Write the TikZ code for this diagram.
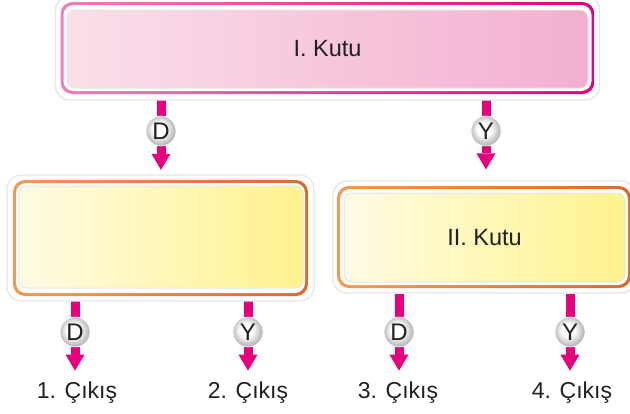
\documentclass[tikz,border=0pt]{standalone}
\usepackage{fontspec}
\setmainfont{Liberation Sans}
\usetikzlibrary{arrows.meta,calc}
\definecolor{mag}{HTML}{E6007E}
\definecolor{pinkL}{HTML}{FADFEA}
\definecolor{pinkR}{HTML}{F3AFCF}
\definecolor{pinkBL}{HTML}{F27DB8}
\definecolor{pinkBR}{HTML}{E4007C}
\definecolor{yelL}{HTML}{FFFBE4}
\definecolor{yelR}{HTML}{FFF38C}
\definecolor{orBL}{HTML}{F39A52}
\definecolor{orBR}{HTML}{DA6A2C}
\definecolor{rimgray}{HTML}{E6E6E6}
\definecolor{ballrim}{HTML}{B8B8B8}
\definecolor{txt}{HTML}{231F20}
\pgfdeclareradialshading{dyball}{\pgfpoint{-4bp}{4bp}}{color(0bp)=(white); color(11bp)=(white); color(25bp)=(ballrim); color(50bp)=(ballrim)}
\pgfdeclarelayer{conn}
\pgfsetlayers{conn,main}
\begin{document}
\begin{tikzpicture}[x=1pt,y=-1pt,
  rim/.style={rectangle, rounded corners=14pt, draw=rimgray, line width=1.3pt, fill=white, inner sep=0pt},
  brd/.style={rectangle, rounded corners=12pt, inner sep=0pt},
  gapbox/.style={rectangle, rounded corners=10pt, fill=white, inner sep=0pt},
  infill/.style={rectangle, rounded corners=8pt, draw=rimgray, line width=1pt, inner sep=0pt, text=txt, font=\fontsize{23.5}{28}\selectfont},
  dyball/.style={circle, minimum size=30pt, inner sep=0pt, shading=dyball, draw=white, line width=0.6pt, text=txt, font=\fontsize{24}{24}\selectfont},
  outl/.style={inner sep=0pt, text=txt, font=\fontsize{23}{23}\selectfont, anchor=base},
  stem/.style={draw=mag, line width=9pt},
  arr/.style={draw=mag, line width=9pt, -{Triangle[width=19pt,length=16pt,line width=0pt]}}
]
\useasboundingbox (0,0) rectangle (630,413);

% top box
\node[rim, minimum width=544pt, minimum height=104pt] (k1rim) at (327.5,48) {};
\node[brd, left color=pinkBL, right color=pinkBR, minimum width=534pt, minimum height=92pt] (k1b) at (327.5,48) {};
\node[gapbox, minimum width=528pt, minimum height=86pt] (k1g) at (327.5,48) {};
\node[infill, left color=pinkL, right color=pinkR, minimum width=521pt, minimum height=78pt] (k1) at (327.5,49) {I. Kutu};

% left box
\node[rim, minimum width=307pt, minimum height=126pt] (k2rim) at (160.5,238) {};
\node[brd, left color=orBL, right color=orBR, minimum width=295pt, minimum height=116pt] (k2b) at (160.5,238) {};
\node[gapbox, minimum width=289pt, minimum height=110pt] (k2g) at (160.5,238) {};
\node[infill, left color=yelL, right color=yelR, minimum width=284pt, minimum height=102pt] (k2) at (161,237) {};

% right box
\node[rim, minimum width=302pt, minimum height=112pt] (k3rim) at (484,237) {};
\node[brd, left color=orBL, right color=orBR, minimum width=294pt, minimum height=102pt] (k3b) at (484,237) {};
\node[gapbox, minimum width=288pt, minimum height=96pt] (k3g) at (484,237) {};
\node[infill, left color=yelL, right color=yelR, minimum width=281pt, minimum height=89pt] (k3) at (484.5,237.5) {II. Kutu};

% decision balls
\node[dyball] (c1) at (161,131) {D};
\node[dyball] (c2) at (486,131) {Y};
\node[dyball] (c3) at (75,332) {D};
\node[dyball] (c4) at (248,332) {Y};
\node[dyball] (c5) at (399,332) {D};
\node[dyball] (c6) at (570,332) {Y};

% outputs
\node[outl] (o1) at (77,398) {1. Çıkış};
\node[outl] (o2) at (248,398) {2. Çıkış};
\node[outl] (o3) at (398,398) {3. Çıkış};
\node[outl] (o4) at (572,398) {4. Çıkış};

\begin{pgfonlayer}{conn}
\draw[stem] (c1 |- k1b.south) -- (c1);
\draw[stem] (c2 |- k1b.south) -- (c2);
\draw[arr, shorten >=4.5pt] (c1) -- (c1 |- k2rim.north);
\draw[arr, shorten >=11pt] (c2) -- (c2 |- k3rim.north);
\draw[stem] (c3 |- k2b.south) -- (c3);
\draw[stem] (c4 |- k2b.south) -- (c4);
\draw[stem] (c5 |- k3rim.south) -- (c5);
\draw[stem] (c6 |- k3rim.south) -- (c6);
\draw[arr, shorten >=10.5pt] (c3) -- (c3 |- o1.north);
\draw[arr, shorten >=10.5pt] (c4) -- (c4 |- o2.north);
\draw[arr, shorten >=10.5pt] (c5) -- (c5 |- o3.north);
\draw[arr, shorten >=10.5pt] (c6) -- (c6 |- o4.north);
\end{pgfonlayer}
\end{tikzpicture}
\end{document}
